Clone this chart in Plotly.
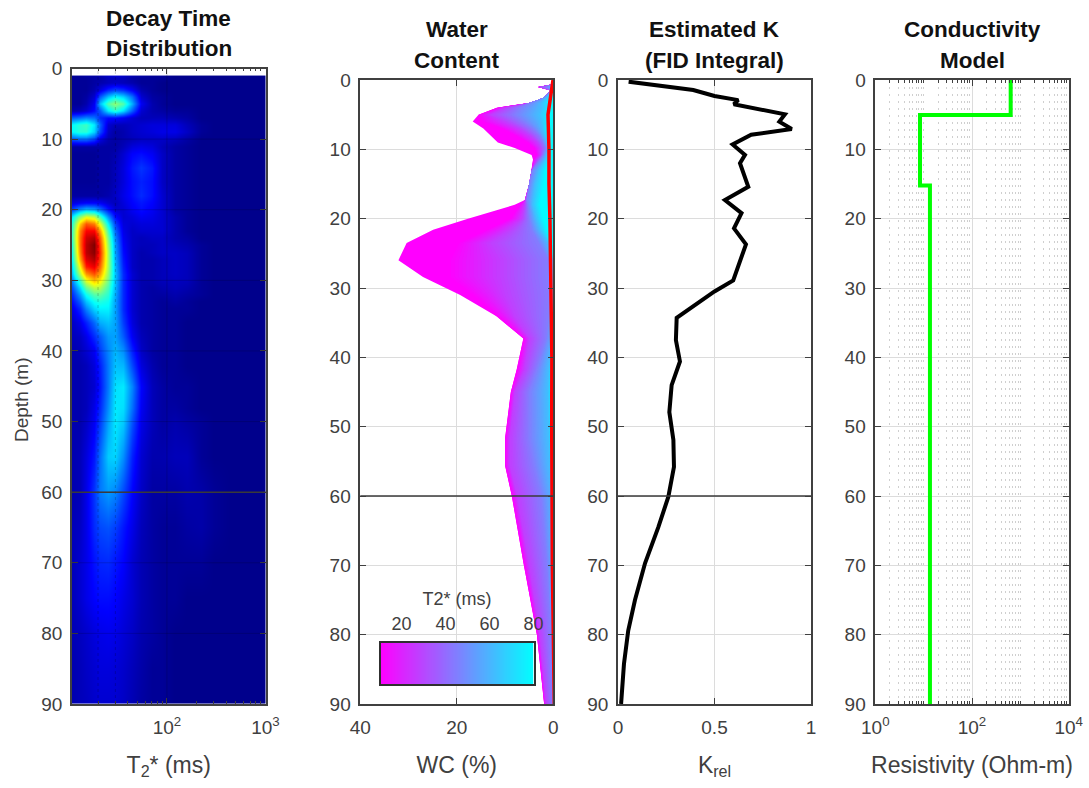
import plotly.graph_objects as go

FONT = "Liberation Sans"
TXT = "#404040"
W, H = 1089, 788

t2_ms = [11, 13, 15, 18, 21, 25, 30, 36, 44, 55, 70, 90, 120, 160, 220, 300, 450, 1000]
dist_depth = [1.1, 1.3, 2, 3, 4, 5, 6, 7, 8, 9, 10, 11, 12, 14, 16, 18, 19, 20, 21, 22, 23, 24, 25, 26, 27, 28,
              29, 30, 31, 32, 33, 34, 36, 38, 40, 42, 45, 48, 50, 55, 60, 65, 70, 75, 80, 85, 90]
dist_amp = [
 [.02,.02,.03,.03,.04,.06,.07,.06,.04,.03,.02,.02,.01,.01,.01,.01,.01,.01],
 [.02,.02,.02,.03,.03,.05,.05,.05,.03,.02,.02,.02,.01,.01,.01,.01,.01,.01],
 [.02,.02,.02,.03,.04,.05,.06,.05,.04,.02,.02,.01,.01,.01,.01,.01,.01,.01],
 [.02,.02,.02,.04,.08,.14,.17,.15,.10,.04,.02,.01,.01,.01,.01,.01,.01,.01],
 [.02,.02,.03,.07,.20,.30,.36,.32,.22,.07,.03,.02,.01,.01,.01,.01,.01,.01],
 [.02,.02,.04,.10,.30,.44,.50,.44,.28,.10,.04,.02,.01,.01,.01,.01,.01,.01],
 [.04,.05,.07,.12,.20,.34,.40,.33,.20,.07,.04,.03,.02,.02,.01,.01,.01,.01],
 [.20,.22,.24,.22,.15,.12,.12,.10,.07,.05,.05,.05,.04,.03,.01,.01,.01,.01],
 [.36,.40,.42,.34,.20,.07,.05,.05,.06,.07,.08,.08,.08,.05,.02,.01,.01,.01],
 [.36,.40,.40,.32,.18,.06,.03,.04,.06,.07,.08,.09,.09,.06,.02,.01,.01,.01],
 [.18,.20,.20,.16,.08,.04,.03,.04,.05,.06,.06,.06,.05,.03,.01,.01,.01,.01],
 [.03,.03,.03,.03,.03,.03,.03,.05,.08,.09,.08,.05,.03,.02,.01,.01,.01,.01],
 [.02,.02,.02,.02,.03,.03,.04,.07,.11,.12,.10,.06,.03,.02,.01,.01,.01,.01],
 [.02,.02,.02,.02,.03,.03,.05,.08,.13,.16,.13,.06,.03,.02,.01,.01,.01,.01],
 [.02,.02,.02,.02,.03,.03,.05,.08,.12,.14,.12,.06,.03,.02,.01,.01,.01,.01],
 [.03,.03,.03,.03,.03,.04,.06,.09,.12,.15,.12,.07,.03,.02,.01,.01,.01,.01],
 [.08,.10,.11,.11,.10,.07,.05,.08,.11,.13,.11,.07,.03,.02,.01,.01,.01,.01],
 [.18,.26,.30,.28,.22,.13,.07,.07,.10,.12,.10,.07,.03,.02,.01,.01,.01,.01],
 [.34,.50,.58,.55,.42,.25,.12,.07,.08,.10,.09,.07,.04,.02,.01,.01,.01,.01],
 [.40,.66,.78,.74,.58,.35,.17,.08,.07,.08,.08,.07,.04,.02,.01,.01,.01,.01],
 [.42,.74,.87,.87,.70,.42,.21,.09,.06,.07,.07,.07,.04,.02,.01,.01,.01,.01],
 [.42,.76,.92,.95,.77,.47,.24,.10,.06,.05,.06,.06,.04,.03,.01,.01,.01,.01],
 [.40,.76,.94,1.0,.80,.50,.26,.11,.06,.05,.05,.06,.05,.04,.02,.01,.01,.01],
 [.38,.74,.94,.99,.82,.52,.27,.12,.06,.04,.05,.06,.06,.05,.02,.01,.01,.01],
 [.36,.70,.90,.95,.80,.52,.28,.13,.06,.04,.04,.05,.06,.05,.02,.01,.01,.01],
 [.33,.62,.84,.89,.76,.52,.29,.14,.06,.04,.04,.05,.06,.05,.02,.01,.01,.01],
 [.30,.54,.72,.79,.70,.50,.30,.15,.07,.04,.04,.05,.06,.05,.02,.01,.01,.01],
 [.24,.42,.58,.67,.62,.47,.30,.15,.07,.04,.04,.05,.055,.05,.02,.01,.01,.01],
 [.19,.33,.46,.54,.53,.43,.29,.15,.07,.04,.03,.04,.05,.04,.02,.01,.01,.01],
 [.15,.26,.37,.44,.45,.40,.28,.15,.07,.04,.03,.03,.04,.03,.02,.01,.01,.01],
 [.12,.20,.30,.37,.39,.37,.27,.15,.07,.04,.03,.02,.03,.02,.01,.01,.01,.01],
 [.09,.15,.24,.32,.35,.35,.27,.15,.07,.04,.03,.02,.02,.02,.01,.01,.01,.01],
 [.06,.09,.14,.21,.28,.30,.27,.17,.08,.04,.03,.02,.02,.01,.01,.01,.01,.01],
 [.05,.06,.09,.15,.20,.26,.27,.20,.10,.05,.03,.02,.02,.01,.01,.01,.01,.01],
 [.04,.05,.07,.10,.17,.24,.29,.25,.14,.06,.03,.02,.02,.01,.01,.01,.01,.01],
 [.04,.04,.05,.08,.14,.23,.30,.29,.18,.08,.04,.02,.02,.01,.01,.01,.01,.01],
 [.04,.04,.05,.07,.13,.23,.33,.34,.24,.11,.05,.03,.02,.02,.01,.01,.01,.01],
 [.04,.04,.05,.09,.15,.25,.34,.33,.22,.10,.05,.03,.03,.02,.01,.01,.01,.01],
 [.04,.04,.06,.10,.17,.27,.34,.31,.19,.09,.05,.03,.04,.03,.02,.01,.01,.01],
 [.04,.05,.08,.13,.22,.31,.32,.25,.14,.07,.04,.04,.05,.05,.02,.01,.01,.01],
 [.04,.05,.09,.16,.23,.26,.24,.18,.11,.06,.03,.03,.03,.04,.035,.02,.01,.01],
 [.05,.06,.09,.15,.18,.19,.17,.13,.09,.05,.03,.02,.02,.03,.035,.02,.01,.01],
 [.05,.07,.09,.125,.145,.15,.13,.11,.07,.045,.03,.02,.02,.02,.02,.01,.01,.01],
 [.05,.07,.09,.11,.12,.12,.11,.09,.07,.045,.03,.02,.02,.01,.01,.01,.01,.01],
 [.045,.055,.065,.08,.09,.095,.09,.075,.06,.04,.03,.02,.01,.01,.01,.01,.01,.01],
 [.04,.05,.06,.07,.08,.08,.075,.065,.05,.035,.02,.02,.01,.01,.01,.01,.01,.01],
 [.04,.05,.055,.065,.07,.07,.07,.06,.045,.03,.02,.02,.01,.01,.01,.01,.01,.01],
]
jet = [[0, "#000080"], [.11, "#0000ff"], [.36, "#00ffff"], [.61, "#ffff00"], [.87, "#ff0000"], [1, "#800000"]]

# ---------- Panel 2: water content profile.  wc_env = total water; the wc_c* columns give where the
# colour (0 = magenta, 1 = cyan) is reached when moving out from 0 %.
wc_depth = [0.6, 1.0, 1.5, 2.6, 3.3, 4, 5, 6, 7, 8, 9, 9.8, 10.8, 11.5, 13, 15, 17.3, 18, 20, 21.6, 23.5, 26, 28.4,
            31, 34.1, 37.3, 41.8, 45, 51.7, 55.6, 60, 70, 80, 90]
wc_env  = [.1,3.2,.5,2.1,5,11.7,15.5,16.7,14.5,13,11.5,8,4.5,4.2,4.5,5,5.9,8,17.7,24.9,30.4,32.1,27,19.3,11.7,6.2,7.6,8.8,10,10,8.6,6.1,3.4,1.9]
wc_c00  = [.1,3.2,.5,2.1,5,11.7,15.5,15,11,8,5.5,4,3.5,4.2,4.5,5,5.9,7,9,14,20,22,22,17,11.7,6.2,7.6,8.8,10,10,8.6,6.1,3.4,1.9]
wc_c25  = [.1,3.0,.5,2.1,5,10,13,10,7,4.8,3.2,2.6,2.6,3.4,4.5,5,5.8,5.9,6.5,9,13,11,11,10,8,5,6,8,9,9,7.5,5,2.8,1.5]
wc_c50  = [.1,1.5,.4,2.1,5,7,8,6,4.2,2.8,2,1.6,2.1,2.7,4.4,5,5.5,5.3,5,4.5,3,1,1,.5,1,1.5,3.5,5,5,4,2.5,1.3,.5,.2]
wc_c75  = [.1,.3,.1,1.5,2.5,2.5,3,2.5,2.2,1.8,1.3,.9,1.4,1.8,3,3.8,4.2,4.3,3.6,2.8,1,0,0,0,0,0,1,1.2,1,.7,0,0,0,0]
wc_c100 = [0,0,0,.1,.3,.3,.5,.8,1.2,1.1,.8,.4,.5,.7,1.5,1.8,2.5,2.6,2,1.2,.3,0,0,0,0,0,0,0,0,0,0,0,0,0]
wc_levels = [0, .25, .5, .75, 1]

noise_depth = [0, 3, 5, 10, 15, 20, 30, 40, 50, 70, 90]
noise_wc    = [.06, .7, 1.1, .9, .9, .7, .47, .3, .33, .2, -.2]

cb_ticks = [20, 40, 60, 80]
cb_range = [10.5, 80]

# ---------- Panel 3: estimated K
k_depth = [.24,.82,1.44,2.3,2.9,3.5,4.95,6,7.07,7.9,9.3,10.8,12,15.4,17.3,19.2,21.4,23.7,28.9,30.5,34.3,37.5,40.6,44,47.9,51.9,55.8,60.1,64.5,69.7,75,79.4,84.2,90]
k_rel   = [.055,.2,.39,.5,.623,.6,.865,.836,.9,.69,.594,.658,.632,.675,.554,.64,.601,.663,.597,.5,.304,.3,.321,.278,.266,.287,.29,.261,.209,.14,.088,.053,.031,.016]

# ---------- Panel 4: conductivity model
res_depth = [0, 5.05, 5.05, 15.2, 15.2, 90]
res_ohm   = [631, 631, 8.4, 8.4, 13.5, 13.5]

depth_ticks = [0, 10, 20, 30, 40, 50, 60, 70, 80, 90]
minor_digits = [2, 3, 4, 5, 6, 7, 8, 9]

titles = [["Decay Time", "Distribution"], ["Water", "Content"], ["Estimated K", "(FID Integral)"], ["Conductivity", "Model"]]
xlabels = ["T<sub>2</sub>* (ms)", "WC (%)", "K<sub>rel</sub>", "Resistivity (Ohm-m)"]
TICK, LABEL, TITLE = 19, 23, 22.5

# pixel boxes (left, right, top, bottom)
boxes = [(72, 265.5, 68.5, 704), (360.3, 553.3, 80, 704), (618, 811, 80, 704), (875.3, 1068.7, 80, 704)]
title_y = [(18, 49), (29, 60), (29, 60), (29, 60)]
def xdom(l, r): return [l / W, r / W]
def ydom(t, b): return [1 - b / H, 1 - t / H]

fig = go.Figure()

fig.add_trace(go.Heatmap(x=t2_ms, y=dist_depth, z=dist_amp, zmin=0, zmax=1, zsmooth="best",
                         colorscale=jet, showscale=False, xaxis="x", yaxis="y", hoverinfo="skip"))

# Water content gradient: painted from the outer edge to the inner one
def mix(a, b, f): return [(1 - f) * p + f * q for p, q in zip(a, b)]
def cool(c): return f"rgb({round(255 * (1 - c))},{round(255 * c)},255)"
cols = [wc_c00, wc_c25, wc_c50, wc_c75, wc_c100]
SUB = 14
def poly(xs, color):
    fig.add_trace(go.Scatter(x=xs + [0, 0], y=wc_depth + [wc_depth[-1], wc_depth[0]], mode="lines", fill="toself",
                             fillcolor=color, line=dict(width=0), xaxis="x2", yaxis="y2", hoverinfo="skip", showlegend=False))
poly(wc_env, cool(0))
for i in range(len(cols) - 1):
    for s in range(SUB):
        f = s / SUB
        xs = [min(a, e) for a, e in zip(mix(cols[i], cols[i + 1], f), wc_env)]
        poly(xs, cool(wc_levels[i] + f * (wc_levels[i + 1] - wc_levels[i])))
fig.add_trace(go.Scatter(x=noise_wc, y=noise_depth, mode="lines", line=dict(color="#ff0000", width=3.5), cliponaxis=False,
                         xaxis="x2", yaxis="y2", hoverinfo="skip", showlegend=False))
fig.add_trace(go.Scatter(x=k_rel, y=k_depth, mode="lines", line=dict(color="#000000", width=4), xaxis="x3", yaxis="y3",
                         hoverinfo="skip", showlegend=False))
fig.add_trace(go.Scatter(x=res_ohm, y=res_depth, mode="lines", line=dict(color="#00ff00", width=4), xaxis="x4", yaxis="y4",
                         hoverinfo="skip", showlegend=False))

# Inset colour bar
cb_x = [cb_range[0] + (cb_range[1] - cb_range[0]) * i / 100 for i in range(101)]
fig.add_trace(go.Heatmap(x=cb_x, y=[0, 1], z=[cb_x, cb_x], zmin=cb_range[0], zmax=cb_range[1], zsmooth="best",
                         colorscale=[[0, "#ff00ff"], [1, "#00ffff"]], showscale=False, xaxis="x5", yaxis="y5", hoverinfo="skip"))

common = dict(showline=True, linecolor="#404040", linewidth=1.5, mirror="allticks", ticks="inside", ticklen=6, tickwidth=1.2,
              tickcolor="#404040", tickfont=dict(family=FONT, size=TICK, color=TXT), zeroline=False, ticklabelstandoff=5)
ycommon = dict(common, range=[90, 0], tickmode="array", tickvals=depth_ticks, showgrid=True, gridcolor="#dcdcdc", gridwidth=1,
               ticklabelstandoff=4)
def logminor(lo, hi, grid, extra=()):
    return dict(tickmode="array", tickvals=[d * 10 ** e for e in range(lo, hi) for d in minor_digits] + list(extra),
                ticks="inside", ticklen=3, tickwidth=1, tickcolor="#404040",
                showgrid=grid, gridcolor="#cfcfcf", griddash="2px,5px", gridwidth=1)
def xt(text): return dict(text=text, font=dict(family=FONT, size=LABEL, color=TXT), standoff=20)

layout = dict(
    width=W, height=H, margin=dict(l=0, r=0, t=0, b=0, autoexpand=False), paper_bgcolor="white", plot_bgcolor="white", showlegend=False,
    xaxis=dict(common, domain=xdom(*boxes[0][:2]), anchor="y", type="log", range=[1.037, 3], tickmode="array",
               tickvals=[100, 1000], ticktext=["10<sup>2</sup>", "10<sup>3</sup>"], showgrid=False,
               minor=logminor(1, 3, False), title=xt(xlabels[0])),
    yaxis=dict(ycommon, domain=ydom(*boxes[0][2:]), anchor="x", showgrid=False),
    xaxis2=dict(common, domain=xdom(*boxes[1][:2]), anchor="y2", range=[40, 0], tickmode="array", tickvals=[40, 20, 0],
                showgrid=True, gridcolor="#dcdcdc", title=xt(xlabels[1])),
    yaxis2=dict(ycommon, domain=ydom(*boxes[1][2:]), anchor="x2"),
    xaxis3=dict(common, domain=xdom(*boxes[2][:2]), anchor="y3", range=[0, 1], tickmode="array", tickvals=[0, .5, 1],
                ticktext=["0", "0.5", "1"], showgrid=True, gridcolor="#dcdcdc", title=xt(xlabels[2])),
    yaxis3=dict(ycommon, domain=ydom(*boxes[2][2:]), anchor="x3"),
    xaxis4=dict(common, domain=xdom(*boxes[3][:2]), anchor="y4", type="log", range=[0, 4], tickmode="array",
                tickvals=[1, 100, 10000], ticktext=["10<sup>0</sup>", "10<sup>2</sup>", "10<sup>4</sup>"],
                showgrid=True, gridcolor="#dcdcdc", minor=logminor(0, 4, True, (10, 1000)), title=xt(xlabels[3])),
    yaxis4=dict(ycommon, domain=ydom(*boxes[3][2:]), anchor="x4"),
    xaxis5=dict(domain=xdom(380.5, 533.5), anchor="y5", side="top", range=cb_range, tickmode="array", tickvals=cb_ticks,
                ticks="", showline=True, mirror=True, linecolor="#303030", linewidth=1.5, showgrid=False, zeroline=False,
                tickfont=dict(family=FONT, size=18, color=TXT), ticklabelstandoff=4,
                title=dict(text="T2* (ms)", font=dict(family=FONT, size=18, color=TXT), standoff=4)),
    yaxis5=dict(domain=ydom(643, 684), anchor="x5", range=[0, 1], showticklabels=False, ticks="", showline=True, mirror=True,
                linecolor="#303030", linewidth=1.5, showgrid=False, zeroline=False),
)

shapes = []
for d in depth_ticks[1:-1]:
    shapes.append(dict(type="line", xref="x domain", yref="y", x0=0, x1=1, y0=d, y1=d, layer="above",
                       line=dict(color="rgba(0,0,0,0.16)", width=1)))
shapes.append(dict(type="line", xref="x", yref="y domain", x0=100, x1=100, y0=0, y1=1, layer="above",
                   line=dict(color="rgba(0,0,0,0.16)", width=1)))
for m in (20, 30):
    shapes.append(dict(type="line", xref="x", yref="y domain", x0=m, x1=m, y0=0, y1=1, layer="above",
                       line=dict(color="rgba(0,0,0,0.2)", width=1, dash="dot")))
for a, b in (("x", "y"), ("x2", "y2"), ("x3", "y3")):
    shapes.append(dict(type="line", xref=f"{a} domain", yref=b, x0=0, x1=1, y0=60, y1=60, layer="above",
                       line=dict(color="#3a3a3a", width=1.5)))
layout["shapes"] = shapes

annotations = []
for box, lines, ys in zip(boxes, titles, title_y):
    cx = (box[0] + box[1]) / 2
    for line, y in zip(lines, ys):
        annotations.append(dict(text=f"<b>{line}</b>", xref="paper", yref="paper", x=cx / W, y=1 - y / H, showarrow=False,
                                xanchor="center", yanchor="middle", font=dict(family=FONT, size=TITLE, color="#111111")))
annotations.append(dict(text="Depth (m)", xref="paper", yref="paper", x=21 / W, y=1 - 400 / H, showarrow=False, textangle=-90,
                        xanchor="center", yanchor="middle", font=dict(family=FONT, size=19, color=TXT)))
layout["annotations"] = annotations
fig.update_layout(**layout)
fig.write_html("out.html", config={"displayModeBar": False}, post_script="document.body.style.margin='0';")
